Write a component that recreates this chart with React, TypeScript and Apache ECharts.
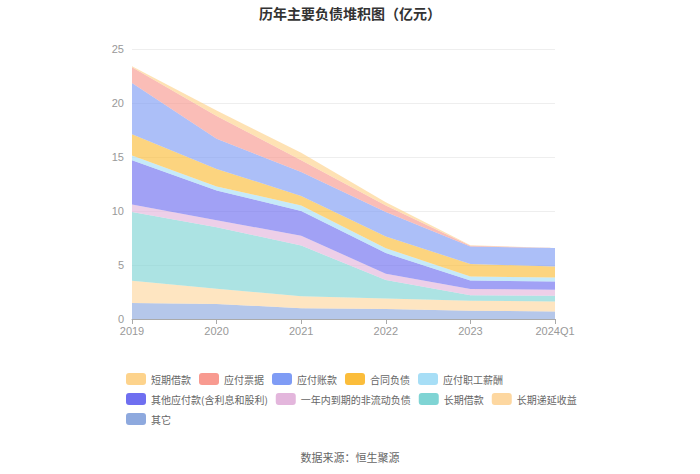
import React, { useEffect, useRef } from "react";
import * as echarts from "echarts";

const categories = ["2019", "2020", "2021", "2022", "2023", "2024Q1"];

const seriesNames = [
  "短期借款",
  "应付票据",
  "应付账款",
  "合同负债",
  "应付职工薪酬",
  "其他应付款(含利息和股利)",
  "一年内到期的非流动负债",
  "长期借款",
  "长期递延收益",
  "其它",
];

const colors = [
  "#fdd38c",
  "#f89a90",
  "#7f9cf5",
  "#fbbd3b",
  "#a7def6",
  "#6f6ff0",
  "#e3b6dc",
  "#7fd4d4",
  "#fdd7a0",
  "#8ea9de",
];

const shortLoan = [0.1, 0.5, 0.7, 0.3, 0.04, 0];
const notesPayable = [1.45, 2.1, 1.1, 0.6, 0.06, 0];
const accountsPayable = [4.75, 2.8, 2.2, 2.25, 1.63, 1.7];
const contractLiab = [1.95, 1.62, 0.9, 1.1, 1.15, 1.02];
const staffPay = [0.45, 0.38, 0.5, 0.45, 0.37, 0.37];
const otherPayable = [4.1, 2.75, 2.3, 1.9, 0.79, 0.77];
const currentNonCurrent = [0.7, 0.65, 0.9, 0.6, 0.59, 0.55];
const longLoan = [6.35, 5.7, 4.7, 1.7, 0.5, 0.53];
const deferredIncome = [2.07, 1.41, 1.1, 0.97, 0.92, 0.93];
const others = [1.48, 1.39, 1.0, 0.93, 0.77, 0.7];

const seriesData = [
  shortLoan,
  notesPayable,
  accountsPayable,
  contractLiab,
  staffPay,
  otherPayable,
  currentNonCurrent,
  longLoan,
  deferredIncome,
  others,
];

const yTicks = [0, 5, 10, 15, 20, 25];

export default function App() {
  const ref = useRef<HTMLDivElement>(null);
  useEffect(() => {
    if (!ref.current) return;
    const chart = echarts.init(ref.current, undefined, { renderer: "svg" });
    // stack bottom-up: last in list is bottom
    const order = seriesNames.map((_, i) => i).reverse();
    const series = order.map((i) => ({
      name: seriesNames[i],
      type: "line",
      stack: "total",
      data: seriesData[i],
      symbol: "none",
      smooth: false,
      lineStyle: { width: 0 },
      itemStyle: { color: colors[i] },
      areaStyle: { color: colors[i], opacity: 0.65 },
    }));
    chart.setOption({
      animation: false,
      backgroundColor: "#ffffff",
      title: {
        text: "历年主要负债堆积图（亿元）",
        left: "center",
        top: 1,
        textStyle: {
          fontSize: 14,
          fontWeight: "bold",
          color: "#333",
          fontFamily: "Noto Sans CJK SC",
        },
      },
      grid: { left: 132, right: 145, top: 49, bottom: 155 },
      legend: {
        data: seriesNames,
        left: 121,
        top: 368,
        width: 470,
        itemWidth: 20,
        itemHeight: 12,
        itemGap: 8,
        icon: "roundRect",
        textStyle: { fontSize: 10, color: "#666", fontFamily: "Noto Sans CJK SC" },
      },
      xAxis: {
        type: "category",
        data: categories,
        boundaryGap: false,
        axisLine: { lineStyle: { color: "#aaa" } },
        axisTick: { show: true, lineStyle: { color: "#aaa" } },
        axisLabel: { color: "#999", fontSize: 11, margin: 6 },
      },
      yAxis: {
        type: "value",
        min: yTicks[0],
        max: yTicks[yTicks.length - 1],
        interval: 5,
        axisLine: { show: false },
        axisTick: { show: false },
        axisLabel: { color: "#999", fontSize: 11, margin: 8 },
        splitLine: { lineStyle: { color: "#eee" } },
      },
      graphic: [
        {
          type: "text",
          left: "center",
          top: 451,
          style: {
            text: "数据来源：恒生聚源",
            fontSize: 11,
            fill: "#666",
            fontFamily: "Noto Sans CJK SC",
          },
        },
      ],
      series,
    });
    return () => chart.dispose();
  }, []);
  return <div ref={ref} style={{ width: 700, height: 474, position: "fixed", left: 0, top: 0 }} />;
}
